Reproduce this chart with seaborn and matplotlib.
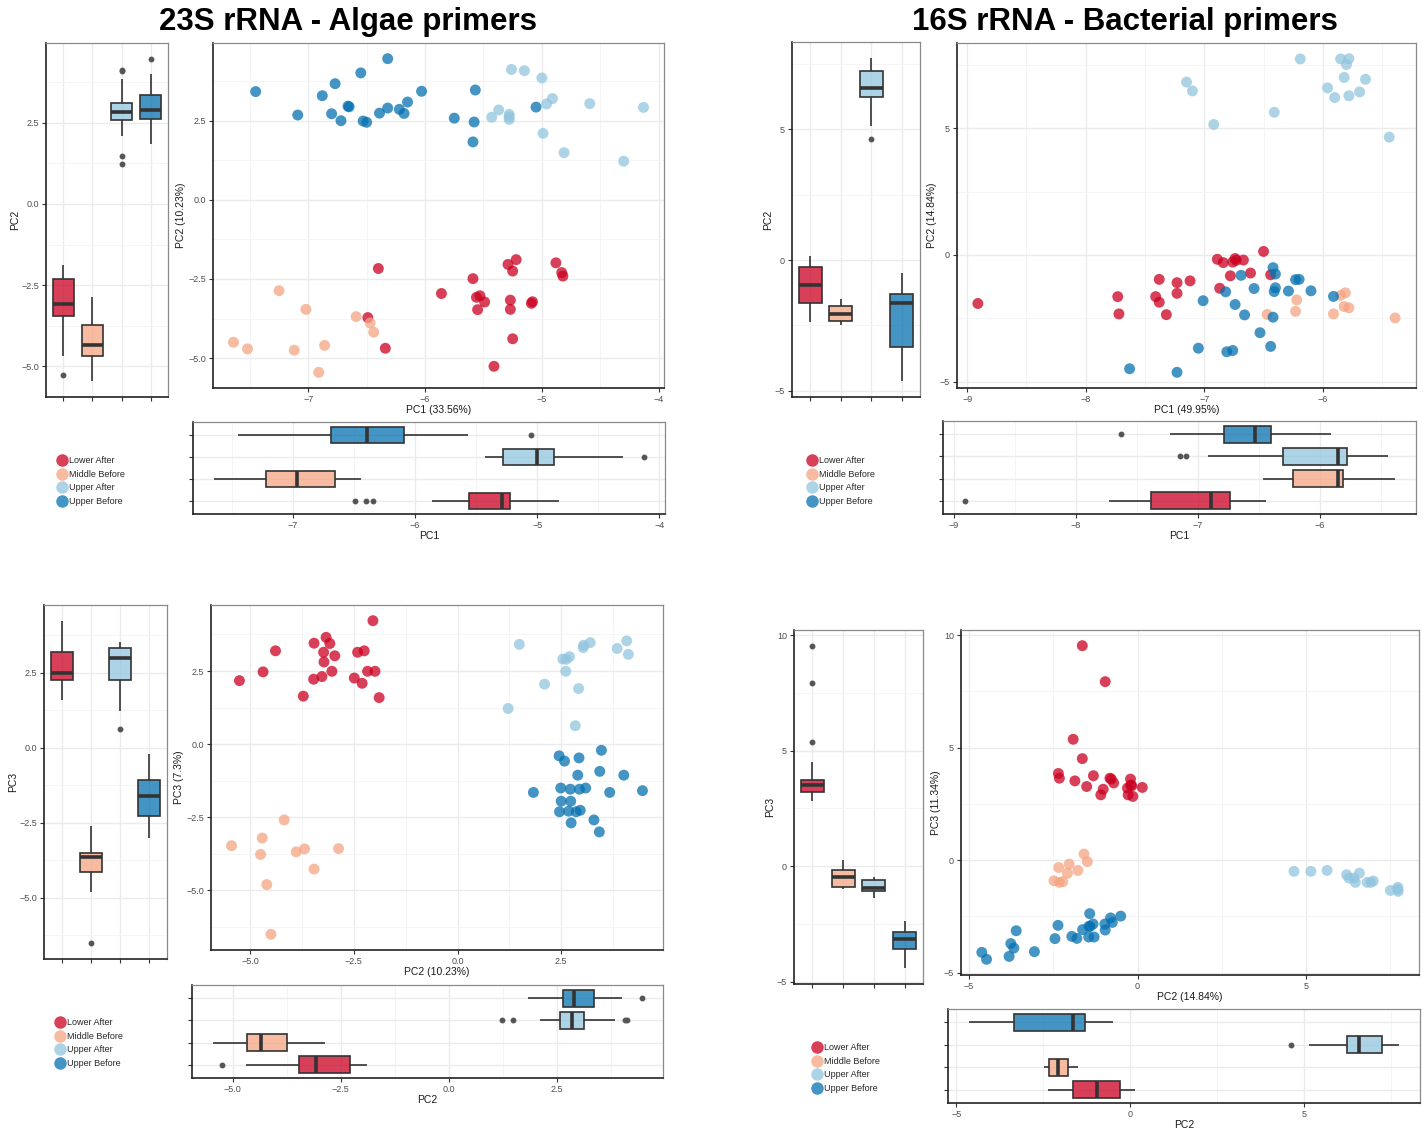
import numpy as np
import pandas as pd
import matplotlib
matplotlib.use("Agg")
import matplotlib.pyplot as plt
import seaborn as sns
from matplotlib.lines import Line2D

# ---------------- data ----------------
groups = ["Lower After", "Middle Before", "Upper After", "Upper Before"]
group_colors = ["#CA0020", "#F4A582", "#92C5DE", "#0571B0"]

# 23S rRNA - Algae primers (samples per group, in group order)
alg_counts = [21, 10, 15, 23]
alg_pc1 = [
    -5.41, -6.34, -5.25, -6.49, -5.55, -5.27, -5.09, -5.49, -5.08, -5.27, -5.56,
    -5.53, -5.86, -5.59, -4.82, -4.83, -5.25, -6.40, -5.29, -4.88, -5.22,
    -6.91, -7.12, -7.52, -6.86, -7.64, -6.44, -6.47, -6.59, -7.02, -7.25,
    -4.30, -4.81, -4.99, -5.28, -5.43, -5.28, -5.28, -5.37, -4.13, -4.96, -4.59,
    -4.91, -5.00, -5.15, -5.26,
    -5.59, -6.50, -5.58, -6.53, -6.72, -5.75, -7.09, -6.80, -6.18, -6.39, -6.22,
    -6.32, -5.05, -6.65, -6.66, -6.15, -6.88, -7.45, -6.03, -5.57, -6.77, -6.55, -6.32,
]
alg_pc2 = [
    -5.26, -4.69, -4.39, -3.72, -3.47, -3.46, -3.27, -3.23, -3.22, -3.17, -3.08,
    -3.03, -2.96, -2.49, -2.41, -2.30, -2.25, -2.17, -2.04, -1.99, -1.89,
    -5.45, -4.75, -4.71, -4.60, -4.50, -4.18, -3.89, -3.69, -3.46, -2.87,
    1.22, 1.49, 2.10, 2.54, 2.61, 2.62, 2.70, 2.84, 2.92, 3.03, 3.04,
    3.20, 3.85, 4.08, 4.12,
    1.83, 2.45, 2.46, 2.49, 2.50, 2.58, 2.68, 2.72, 2.73, 2.74, 2.86,
    2.90, 2.93, 2.94, 2.96, 3.09, 3.29, 3.42, 3.43, 3.47, 3.67, 4.01, 4.46,
]
alg_pc3 = [
    2.17, 2.47, 3.19, 1.64, 2.22, 3.45, 2.31, 3.14, 2.81, 3.65, 3.44,
    2.49, 3.02, 2.26, 3.14, 2.08, 3.19, 2.49, 4.22, 2.49, 1.59,
    -3.47, -3.77, -3.21, -4.80, -6.50, -2.59, -3.68, -3.58, -4.27, -3.57,
    1.22, 3.41, 2.05, 2.91, 2.49, 2.90, 2.99, 0.63, 1.90, 3.30, 3.38,
    3.47, 3.27, 3.53, 3.07,
    -1.65, -0.40, -2.31, -1.50, -1.95, -0.58, -2.29, -1.54, -1.95, -2.69, -2.31,
    -1.06, -0.47, -1.54, -2.26, -1.50, -2.59, -3.00, -0.93, -0.21, -1.65, -1.06, -1.59,
]

# 16S rRNA - Bacterial primers
bac_counts = [21, 9, 15, 23]
bac_pc1 = [
    -7.32, -7.72, -8.91, -7.38, -7.73, -7.41, -7.23, -6.87, -7.23, -7.12, -7.38,
    -6.78, -6.44, -6.61, -6.84, -6.76, -6.73, -6.67, -6.89, -6.74, -6.50,
    -5.39, -6.47, -5.91, -6.23, -5.78, -5.82, -6.22, -5.85, -5.81,
    -5.44, -6.92, -6.41, -5.90, -5.78, -5.69, -7.10, -5.96, -7.15, -5.64, -5.82,
    -5.80, -6.19, -5.85, -5.78,
    -7.23, -7.63, -6.81, -6.76, -7.05, -6.44, -6.53, -6.42, -6.66, -6.74, -7.01,
    -5.91, -6.82, -6.41, -6.29, -6.10, -6.58, -6.40, -6.23, -6.20, -6.69, -6.40, -6.42,
]
bac_pc2 = [
    -2.35, -2.32, -1.91, -1.86, -1.64, -1.64, -1.51, -1.31, -1.09, -1.02, -0.96,
    -0.82, -0.78, -0.71, -0.30, -0.28, -0.21, -0.20, -0.17, -0.14, 0.14,
    -2.48, -2.34, -2.32, -2.22, -2.08, -2.03, -1.77, -1.59, -1.49,
    4.64, 5.14, 5.62, 6.20, 6.27, 6.42, 6.46, 6.58, 6.81, 6.92, 6.99,
    7.50, 7.72, 7.72, 7.73,
    -4.62, -4.48, -3.81, -3.76, -3.67, -3.60, -3.06, -2.45, -2.36, -1.95, -1.80,
    -1.63, -1.45, -1.44, -1.42, -1.41, -1.32, -1.29, -0.97, -0.96, -0.80, -0.75, -0.50,
]
bac_pc3 = [
    3.85, 3.64, 5.37, 3.52, 4.51, 9.53, 3.27, 3.75, 2.90, 3.15, 7.93,
    3.64, 3.60, 3.43, 3.20, 2.90, 3.60, 3.34, 3.30, 2.83, 3.23,
    -0.92, -0.33, -0.99, -0.96, -0.59, -0.18, -0.46, 0.27, -0.07,
    -0.50, -0.50, -0.46, -0.65, -0.80, -0.80, -0.99, -0.58, -0.99, -0.99, -0.93,
    -1.35, -1.30, -1.21, -1.39,
    -4.10, -4.41, -4.28, -3.71, -3.91, -3.14, -4.07, -3.49, -2.90, -3.39, -3.48,
    -3.09, -3.42, -2.94, -2.38, -2.95, -2.84, -3.42, -2.84, -3.11, -2.57, -2.77, -2.49,
]

titles = ["23S rRNA - Algae primers", "16S rRNA - Bacterial primers"]
var_alg = {"PC1": "PC1 (33.56%)", "PC2": "PC2 (10.23%)", "PC3": "PC3 (7.3%)"}
var_bac = {"PC1": "PC1 (49.95%)", "PC2": "PC2 (14.84%)", "PC3": "PC3 (11.34%)"}

alg = pd.DataFrame({"group": np.repeat(groups, alg_counts),
                    "PC1": alg_pc1, "PC2": alg_pc2, "PC3": alg_pc3})
bac = pd.DataFrame({"group": np.repeat(groups, bac_counts),
                    "PC1": bac_pc1, "PC2": bac_pc2, "PC3": bac_pc3})

palette = dict(zip(groups, group_colors))

# ---------------- style ----------------
sns.set_style("white")
plt.rcParams["font.family"] = ["Liberation Sans", "DejaVu Sans"]

W, H = 1423, 1128
fig = plt.figure(figsize=(W / 100, H / 100), dpi=100)


def rect(x0, y0, x1, y1):
    return [x0 / W, 1 - y1 / H, (x1 - x0) / W, (y1 - y0) / H]


def data_lims(vals):
    lo, hi = float(np.min(vals)), float(np.max(vals))
    p = 0.05 * (hi - lo)
    return lo - p, hi + p


def style(ax):
    for s in ["top", "right"]:
        ax.spines[s].set_color("#8a8a8a")
        ax.spines[s].set_linewidth(0.9)
    for s in ["left", "bottom"]:
        ax.spines[s].set_color("#222222")
        ax.spines[s].set_linewidth(1.2)
    ax.tick_params(which="major", length=3, width=0.8, color="#333333",
                   labelsize=6.5, labelcolor="#4d4d4d", pad=2,
                   bottom=True, left=True)
    ax.tick_params(which="minor", length=0)
    ax.set_axisbelow(True)
    ax.grid(which="major", color="#EBEBEB", lw=1.0)
    ax.grid(which="minor", color="#F4F4F4", lw=0.6)


def num_axis(ax, which, vals, ticks, fmt):
    lo, hi = data_lims(vals)
    step = ticks[1] - ticks[0]
    major = [t for t in ticks if lo <= t <= hi]
    minor = [t + step / 2 for t in [ticks[0] - step] + list(ticks)]
    minor = [m for m in minor if lo <= m <= hi]
    labels = [fmt.format(t).replace("-", "\u2212") for t in major]
    if which == "x":
        ax.set_xlim(lo, hi)
        ax.set_xticks(major)
        ax.set_xticklabels(labels)
        ax.set_xticks(minor, minor=True)
    else:
        ax.set_ylim(lo, hi)
        ax.set_yticks(major)
        ax.set_yticklabels(labels)
        ax.set_yticks(minor, minor=True)


def fade_boxes(ax):
    for p in ax.patches:
        fc = p.get_facecolor()
        p.set_facecolor((fc[0], fc[1], fc[2], 0.75))


box_kw = dict(hue="group", palette=palette, width=0.75, saturation=1,
              linewidth=1.2, linecolor="#333333", legend=False, showcaps=False,
              medianprops=dict(linewidth=2.6, color="#333333"),
              flierprops=dict(marker="o", markersize=3.2,
                              markerfacecolor="#555555", markeredgecolor="#555555"))

label_kw = dict(fontsize=7.5, color="#1a1a1a")


def panel(df, xv, yv, names, xt, xf, yt, yf,
          r_side, r_sc, r_bot, leg_xy):
    # side vertical boxplot of y variable
    a1 = fig.add_axes(rect(*r_side))
    sns.boxplot(data=df, x="group", y=yv, order=groups, hue_order=groups, ax=a1, **box_kw)
    fade_boxes(a1)
    style(a1)
    a1.set_xlim(-0.6, 3.6)
    a1.set_xticks(range(4))
    a1.set_xticklabels([])
    num_axis(a1, "y", df[yv], yt, yf)
    a1.set_xlabel("")
    a1.set_ylabel(yv, labelpad=1, **label_kw)
    a1.grid(which="minor", axis="x", visible=False)

    # scatter
    a2 = fig.add_axes(rect(*r_sc))
    sns.scatterplot(data=df, x=xv, y=yv, hue="group", hue_order=groups,
                    palette=palette, s=62, alpha=0.75, edgecolor="none",
                    legend=False, ax=a2)
    style(a2)
    num_axis(a2, "x", df[xv], xt, xf)
    num_axis(a2, "y", df[yv], yt, yf)
    a2.set_xlabel(names[xv], labelpad=1, **label_kw)
    a2.set_ylabel(names[yv], labelpad=2, **label_kw)

    # bottom horizontal boxplot of x variable
    a3 = fig.add_axes(rect(*r_bot))
    sns.boxplot(data=df, x=xv, y="group", order=groups[::-1], hue_order=groups,
                orient="h", ax=a3, **box_kw)
    fade_boxes(a3)
    style(a3)
    a3.set_ylim(3.6, -0.6)
    a3.set_yticks(range(4))
    a3.set_yticklabels([])
    num_axis(a3, "x", df[xv], xt, xf)
    a3.set_ylabel("")
    a3.set_xlabel(xv, labelpad=1, **label_kw)

    # legend
    handles = [Line2D([0], [0], marker="o", linestyle="none", markersize=9,
                      markerfacecolor=c, markeredgecolor="none", alpha=0.75)
               for c in group_colors]
    fig.legend(handles, groups, loc="upper left",
               bbox_to_anchor=(leg_xy[0] / W, 1 - leg_xy[1] / H),
               frameon=False, fontsize=6.5, handlelength=1.0, handletextpad=0.3,
               labelspacing=0.52, borderpad=0, borderaxespad=0)


panel(alg, "PC1", "PC2", var_alg, [-7, -6, -5, -4], "{:.0f}",
      [-5, -2.5, 0, 2.5], "{:.1f}",
      (46, 43, 168, 397), (213, 43, 664, 388), (193, 422, 665, 514), (57, 456))
panel(bac, "PC1", "PC2", var_bac, [-9, -8, -7, -6], "{:.0f}",
      [-5, 0, 5], "{:.0f}",
      (792, 42, 920, 397), (957, 43, 1416, 388), (943, 421, 1416, 514), (807, 456))
panel(alg, "PC2", "PC3", var_alg, [-5, -2.5, 0, 2.5], "{:.1f}",
      [-5, -2.5, 0, 2.5], "{:.1f}",
      (44, 605, 167, 959), (211, 605, 663, 950), (192, 985, 663, 1078), (55, 1018))
panel(bac, "PC2", "PC3", var_bac, [-5, 0, 5], "{:.0f}",
      [-5, 0, 5, 10], "{:.0f}",
      (794, 630, 923, 984), (961, 630, 1419, 975), (948, 1009, 1420, 1103), (812, 1043))

fig.text(348 / W, 1 - 22 / H, titles[0], ha="center", va="center",
         fontsize=22.5, fontweight="bold", color="black")
fig.text(1125 / W, 1 - 22 / H, titles[1], ha="center", va="center",
         fontsize=22.5, fontweight="bold", color="black")

fig.savefig("out.png", dpi=100, facecolor="white")
